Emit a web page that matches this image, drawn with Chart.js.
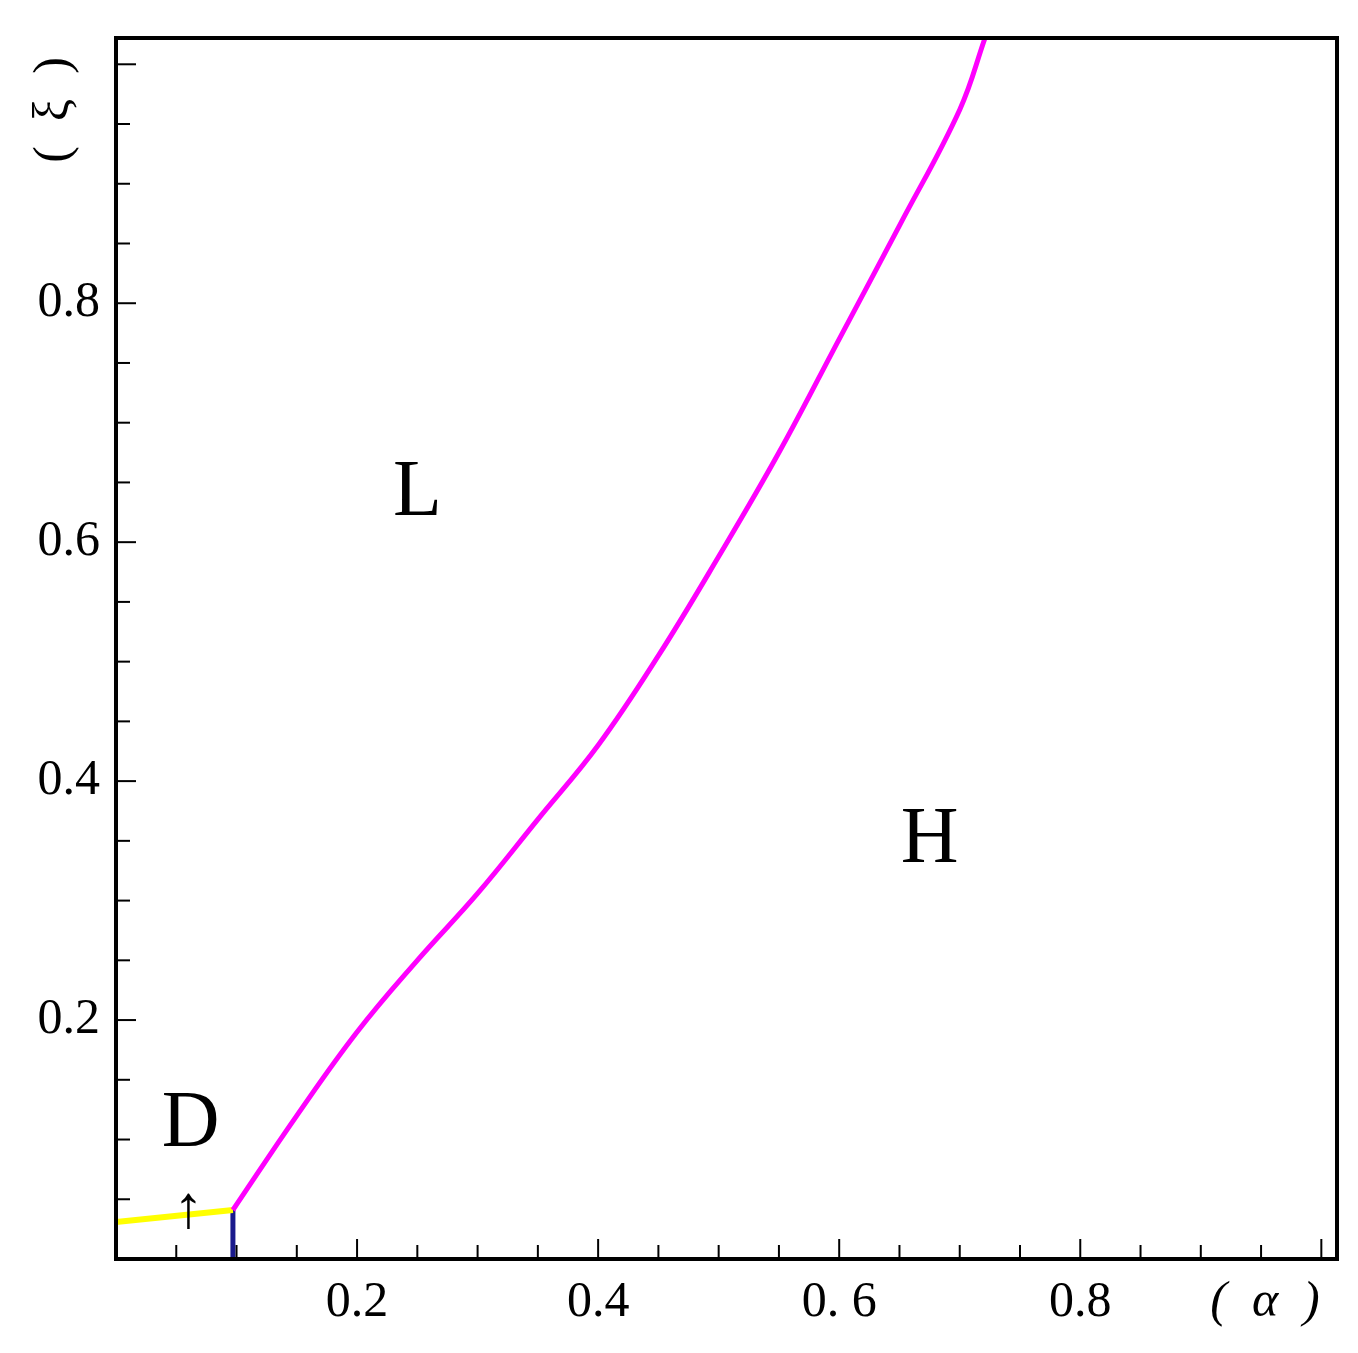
<!DOCTYPE html>
<html><head><meta charset="utf-8">
<script src="https://cdn.jsdelivr.net/npm/chart.js@4"></script>
<style>html,body{margin:0;background:#fff}#wrap{width:1358px;height:1353px}</style>
</head><body><div id="wrap"><canvas id="c"></canvas></div>
<script>
// boundary curve L / H (magenta)
const curveX = [0.097, 0.15, 0.2, 0.25, 0.3, 0.35, 0.4, 0.45, 0.5, 0.55, 0.6, 0.65, 0.7, 0.721];
const curveY = [0.041, 0.12, 0.19, 0.25, 0.306, 0.368, 0.43, 0.505, 0.588, 0.675, 0.77, 0.865, 0.962, 1.022];
// yellow D boundary
const yellowX = [0, 0.097];
const yellowY = [0.031, 0.041];
// blue vertical
const blueX = [0.097, 0.097];
const blueY = [0, 0.041];
const regionLabels = [{t:'L', x:0.25, y:0.64}, {t:'H', x:0.675, y:0.35}, {t:'D', x:0.062, y:0.112}];
const serif = '"Liberation Serif","Times New Roman",serif';

const pts = (xs, ys) => xs.map((x, i) => ({x, y: ys[i]}));

const deco = {
  id: 'deco',
  afterDraw(chart) {
    const {ctx, chartArea: a, scales: {x, y}} = chart;
    ctx.save();
    ctx.strokeStyle = '#000'; ctx.lineWidth = 2;
    for (let v = 0.05; v < 1.01; v += 0.05) {
      const major = Math.abs(v * 5 - Math.round(v * 5)) < 1e-6;
      const L = major ? 20 : 14;
      const px = x.getPixelForValue(v);
      if (px < a.right - 2) { ctx.beginPath(); ctx.moveTo(px, a.bottom); ctx.lineTo(px, a.bottom - L); ctx.stroke(); }
      const py = y.getPixelForValue(v);
      if (py > a.top + 2) { ctx.beginPath(); ctx.moveTo(a.left, py); ctx.lineTo(a.left + L, py); ctx.stroke(); }
    }
    ctx.lineWidth = 4;
    ctx.strokeRect(a.left, a.top, a.right - a.left, a.bottom - a.top);
    ctx.fillStyle = '#000';
    ctx.textAlign = 'center'; ctx.textBaseline = 'middle';
    ctx.font = '80px ' + serif;
    regionLabels.forEach(l => ctx.fillText(l.t, x.getPixelForValue(l.x), y.getPixelForValue(l.y)));
    ctx.font = 'bold 60px ' + serif;
    ctx.fillText('↑', x.getPixelForValue(0.06), y.getPixelForValue(0.04));
    ctx.font = 'italic 50px ' + serif;
    ctx.fillText('(  α  )', 1265, 1303);
    ctx.translate(55, 110); ctx.rotate(-Math.PI / 2);
    ctx.font = '50px ' + serif;
    ctx.fillText('(  ξ  )', 0, 0);
    ctx.restore();
  }
};

new Chart(document.getElementById('c'), {
  type: 'scatter',
  data: { datasets: [
    {data: pts(curveX, curveY), showLine: true, borderColor: '#ff00ff', borderWidth: 5, pointRadius: 0, tension: 0.4},
    {data: pts(yellowX, yellowY), showLine: true, borderColor: '#ffff00', borderWidth: 6, pointRadius: 0},
    {data: pts(blueX, blueY), showLine: true, borderColor: '#1a1a8c', borderWidth: 5, pointRadius: 0}
  ]},
  options: {
    responsive: true, maintainAspectRatio: false, animation: false,
    layout: {padding: {left: 0, top: 27, right: 21, bottom: 0}},
    plugins: {legend: {display: false}, tooltip: {enabled: false}},
    scales: {
      x: {type: 'linear', min: 0, max: 1.013, afterFit: s => { s.height = 94; },
        grid: {display: false}, border: {display: false},
        ticks: {stepSize: 0.05, autoSkip: false, maxRotation: 0, color: '#000', font: {family: serif, size: 50}, padding: 6,
          callback: v => { const r = Math.round(v * 10) / 10; if (Math.abs(v * 5 - Math.round(v * 5)) > 1e-6 || r === 0 || r >= 1) return ''; return r === 0.6 ? '0. 6' : r.toFixed(1); }}},
      y: {type: 'linear', min: 0, max: 1.022, afterFit: s => { s.width = 116; },
        grid: {display: false}, border: {display: false},
        ticks: {stepSize: 0.05, autoSkip: false, color: '#000', font: {family: serif, size: 50}, padding: 8,
          callback: v => { const r = Math.round(v * 10) / 10; if (Math.abs(v * 5 - Math.round(v * 5)) > 1e-6 || r === 0 || r >= 1) return ''; return r.toFixed(1); }}}
    }
  },
  plugins: [deco]
});
</script></body></html>
